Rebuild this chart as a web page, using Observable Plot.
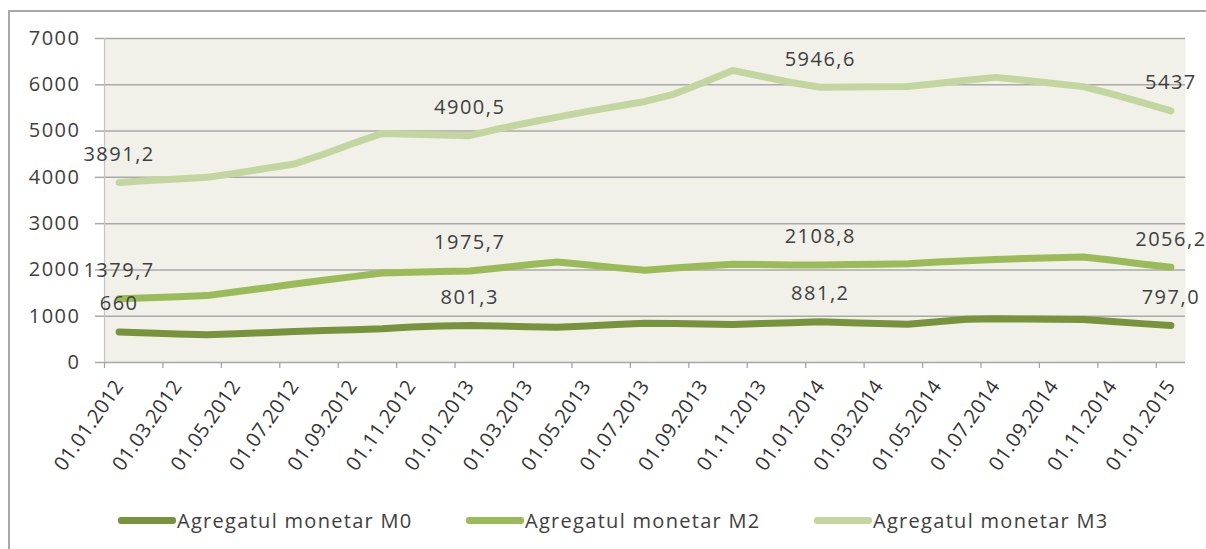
<!DOCTYPE html>
<html><head><meta charset="utf-8">
<script src="https://cdn.jsdelivr.net/npm/d3@7"></script>
<script src="https://cdn.jsdelivr.net/npm/@observablehq/plot@0.6"></script>
<style>
html,body{margin:0;padding:0;background:#fff;overflow:hidden;width:1206px;height:549px;}
body{position:relative;font-family:"Open Sans",sans-serif;}
#frame{position:absolute;left:8px;top:10px;width:1240px;height:600px;border:2px solid #a8a8a8;box-sizing:border-box;}
#chart{position:absolute;left:0;top:0;}
#chart svg text{letter-spacing:1.5px;}
#chart svg .date text{letter-spacing:0.3px;}
#legend{position:absolute;left:0;top:490px;width:1206px;height:59px;}
.item{position:absolute;top:17px;display:flex;align-items:center;font-size:20px;letter-spacing:1.3px;color:#404040;white-space:nowrap;}
.sw{width:58px;height:7px;margin-right:1px;border-radius:3px;}
</style></head><body>
<div id="frame"></div><div id="chart"></div><div id="legend"></div>
<script>
const categories = [
 "01.01.2012","01.02.2012","01.03.2012","01.04.2012","01.05.2012","01.06.2012","01.07.2012","01.08.2012","01.09.2012","01.10.2012","01.11.2012","01.12.2012",
 "01.01.2013","01.02.2013","01.03.2013","01.04.2013","01.05.2013","01.06.2013","01.07.2013","01.08.2013","01.09.2013","01.10.2013","01.11.2013","01.12.2013",
 "01.01.2014","01.02.2014","01.03.2014","01.04.2014","01.05.2014","01.06.2014","01.07.2014","01.08.2014","01.09.2014","01.10.2014","01.11.2014","01.12.2014",
 "01.01.2015"];
const seriesNames = ["Agregatul monetar M0","Agregatul monetar M2","Agregatul monetar M3"];
const seriesColors = ["#77933c","#9bbb59","#c4d69f"];
const m0 = [660,640,615,600,620,645,670,690,710,730,765,790,801.3,790,775,760,790,820,850,840,830,820,840,860,881.2,860,840,825,880,935,945,940,935,930,885,840,797.0];
const m2 = [1379.7,1400,1420,1445,1530,1610,1695,1775,1855,1935,1950,1965,1975.7,2040,2110,2170,2110,2050,1995,2040,2085,2125,2115,2105,2108.8,2115,2120,2135,2170,2200,2225,2245,2265,2280,2210,2130,2056.2];
const m3 = [3891.2,3930,3965,4000,4090,4190,4290,4500,4730,4950,4930,4915,4900.5,5050,5180,5300,5420,5530,5640,5800,6050,6310,6180,6050,5946.6,5950,5955,5965,6030,6100,6160,6100,6030,5960,5800,5620,5437];
const labelIndex = [0,12,24,36];
const labelsM0 = ["660","801,3","881,2","797,0"];
const labelsM2 = ["1379,7","1975,7","2108,8","2056,2"];
const labelsM3 = ["3891,2","4900,5","5946,6","5437"];
const yTicks = [0,1000,2000,3000,4000,5000,6000,7000];

const seriesValues = [m0,m2,m3];
const seriesLabels = [labelsM0,labelsM2,labelsM3];
const rows = seriesNames.flatMap((s,k)=>categories.map((c,i)=>({i, date:c, series:s, value:seriesValues[k][i]})));
const labelRows = seriesNames.flatMap((s,k)=>labelIndex.map((idx,j)=>({i:idx, value:seriesValues[k][idx], text:seriesLabels[k][j]})));
const dateRows = categories.map((c,i)=>({i, date:c})).filter(d=>d.i%2===0);
const boundaries = categories.map((c,i)=>i-0.5).filter((v,i)=>i%2===0);

const chart = Plot.plot({
  width:1206, height:490,
  marginLeft:104, marginRight:21, marginTop:38, marginBottom:128,
  style:{fontFamily:"Open Sans", fontSize:"20px", color:"#404040", background:"transparent", overflow:"visible"},
  x:{type:"linear", domain:[-0.5, categories.length-0.5]},
  y:{type:"linear", domain:[0,7000]},
  color:{domain:seriesNames, range:seriesColors},
  marks:[
    Plot.frame({fill:"#f1f1ea", stroke:null}),
    Plot.ruleY(yTicks, {stroke:"#a9a9a9", strokeWidth:1.5}),
    Plot.ruleX([-0.5], {stroke:"#c4c4c4", strokeWidth:1.2}),
    Plot.axisY({ticks:yTicks, label:null, tickSize:9, tickPadding:15, stroke:"#a9a9a9", strokeWidth:1.5, fill:"#404040", fontSize:20, tickFormat:d=>String(d)}),
    Plot.axisX({ticks:boundaries, label:null, tickSize:6, stroke:"#a0a0a0", strokeWidth:1.2, tickFormat:()=>""}),
    Plot.line(rows, {x:"i", y:"value", z:"series", stroke:"series", strokeWidth:7, strokeLinejoin:"round", strokeLinecap:"round"}),
    Plot.text(labelRows, {x:"i", y:"value", text:"text", dy:-28, fill:"#404040", fontSize:20}),
    Plot.text(dateRows, {x:"i", frameAnchor:"bottom", text:"date", dy:20, rotate:-55, textAnchor:"end", lineAnchor:"middle", fill:"#333333", fontSize:20, className:"date"})
  ]
});
document.getElementById("chart").appendChild(chart);

const legend = document.getElementById("legend");
const legendLeft = [118,466,814];
seriesNames.forEach((s,k)=>{
  const it = document.createElement("div");
  it.className="item"; it.style.left = legendLeft[k]+"px";
  const sw = document.createElement("div"); sw.className="sw"; sw.style.background = seriesColors[k];
  const tx = document.createElement("span"); tx.textContent = s;
  it.appendChild(sw); it.appendChild(tx); legend.appendChild(it);
});
</script>
</body></html>
